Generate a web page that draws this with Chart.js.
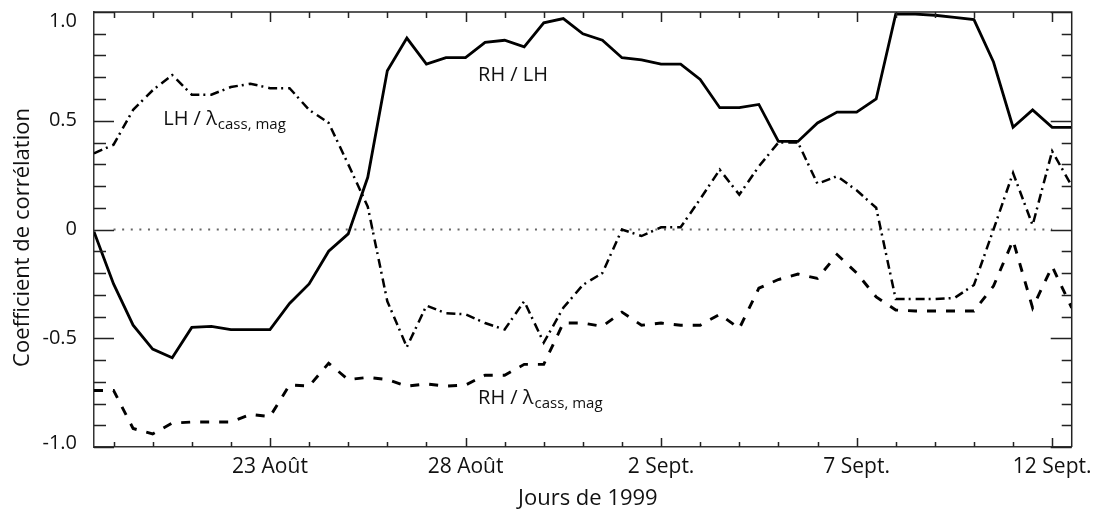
<!DOCTYPE html>
<html><head><meta charset="utf-8">
<script src="https://cdn.jsdelivr.net/npm/chart.js@4.4.1/dist/chart.umd.min.js"></script>
<style>html,body{margin:0;padding:0;background:#fff;} #wrap{width:1099px;height:513px;}</style>
</head><body><div id="wrap"><canvas id="c" width="1099" height="513"></canvas></div>
<script>
// Day of year 1999 (230.5 = 18 Aug, 12:00), half-day samples
const days = [230.5,231,231.5,232,232.5,233,233.5,234,234.5,235,235.5,236,236.5,237,237.5,238,238.5,239,239.5,240,240.5,241,241.5,242,242.5,243,243.5,244,244.5,245,245.5,246,246.5,247,247.5,248,248.5,249,249.5,250,250.5,251,251.5,252,252.5,253,253.5,254,254.5,255,255.5];
// RH / LH (solid)
const rhLh = [-0.01,-0.25,-0.44,-0.55,-0.59,-0.45,-0.445,-0.46,-0.46,-0.46,-0.34,-0.25,-0.10,-0.02,0.24,0.73,0.88,0.76,0.79,0.79,0.86,0.87,0.84,0.95,0.97,0.90,0.87,0.79,0.78,0.76,0.76,0.69,0.56,0.56,0.575,0.405,0.405,0.49,0.54,0.54,0.60,0.99,0.99,0.985,0.975,0.965,0.77,0.47,0.55,0.47,0.47];
// LH / lambda cass,mag (dash-dot)
const lhLambda = [0.35,0.39,0.55,0.64,0.71,0.62,0.62,0.655,0.67,0.65,0.65,0.55,0.49,0.30,0.105,-0.33,-0.54,-0.35,-0.385,-0.39,-0.43,-0.46,-0.33,-0.52,-0.36,-0.255,-0.20,0.00,-0.03,0.01,0.01,0.14,0.275,0.16,0.29,0.40,0.40,0.21,0.245,0.18,0.10,-0.32,-0.32,-0.32,-0.315,-0.255,0.0,0.26,0.02,0.36,0.20];
// RH / lambda cass,mag (dashed)
const rhLambda = [-0.74,-0.74,-0.915,-0.94,-0.89,-0.885,-0.885,-0.885,-0.85,-0.86,-0.715,-0.72,-0.615,-0.69,-0.68,-0.69,-0.72,-0.71,-0.72,-0.715,-0.67,-0.67,-0.62,-0.62,-0.43,-0.43,-0.445,-0.38,-0.44,-0.43,-0.44,-0.44,-0.39,-0.455,-0.27,-0.23,-0.205,-0.225,-0.115,-0.20,-0.31,-0.37,-0.375,-0.375,-0.375,-0.375,-0.26,-0.05,-0.36,-0.17,-0.36];
const zeroLineDays = [231, 255];
const xTickDays = [235, 240, 245, 250, 255];
const xTickLabels = ['23 Août', '28 Août', '2 Sept.', '7 Sept.', '12 Sept.'];
const yTickValues = [-1, -0.5, 0, 0.5, 1];
const yTickLabels = ['-1.0', '-0.5', '0', '0.5', '1.0'];
const xTitle = 'Jours de 1999';
const yTitle = 'Coefficient de corrélation';
const annotations = [
  {main: 'LH / λ', sub: 'cass, mag', x: 232.27, y: 0.482},
  {main: 'RH / LH', sub: '', x: 240.32, y: 0.685},
  {main: 'RH / λ', sub: 'cass, mag', x: 240.32, y: -0.80}
];

const FAM = "'Open Sans', 'DejaVu Sans', sans-serif";
Chart.defaults.font.family = FAM;
Chart.defaults.color = '#111';

const pts = arr => days.map((d, i) => ({x: d, y: arr[i]}));

const framePlugin = {
  id: 'frame',
  afterDraw(chart) {
    const {ctx, chartArea: a, scales: {x, y}} = chart;
    ctx.save();
    ctx.strokeStyle = '#222';
    ctx.lineWidth = 1.5;
    ctx.beginPath();
    ctx.moveTo(a.left, a.top); ctx.lineTo(a.right, a.top); ctx.lineTo(a.right, a.bottom);
    for (let d = 231; d <= 255; d++) {
      const px = Math.round(x.getPixelForValue(d)) + 0.5;
      const major = xTickDays.includes(d);
      ctx.moveTo(px, a.bottom); ctx.lineTo(px, a.bottom - (major ? 9 : 5));
      ctx.moveTo(px, a.top); ctx.lineTo(px, a.top + (major ? 10 : 6));
    }
    for (let k = -10; k <= 10; k++) {
      const py = Math.round(y.getPixelForValue(k / 10)) + 0.5;
      const major = (k % 5 === 0);
      ctx.moveTo(a.left, py); ctx.lineTo(a.left + (major ? 20 : 12), py);
      ctx.moveTo(a.right, py); ctx.lineTo(a.right - (major ? 21 : 10), py);
    }
    ctx.stroke();
    // y tick labels
    ctx.fillStyle = '#111';
    ctx.font = '20px ' + FAM;
    ctx.textAlign = 'right';
    ctx.textBaseline = 'middle';
    yTickValues.forEach((v, i) => {
      let py = y.getPixelForValue(v);
      if (v === 1) py += 9;
      if (v === -1) py -= 4;
      ctx.fillText(yTickLabels[i], a.left - 17, py);
    });
    // axis titles
    ctx.font = '22px ' + FAM;
    ctx.textAlign = 'center';
    ctx.textBaseline = 'alphabetic';
    ctx.fillText(xTitle, (a.left + a.right) / 2 + 5, 505);
    ctx.save();
    ctx.translate(29, (a.top + a.bottom) / 2 + 8);
    ctx.rotate(-Math.PI / 2);
    ctx.fillText(yTitle, 0, 0);
    ctx.restore();
    // annotations
    ctx.textAlign = 'left';
    ctx.textBaseline = 'alphabetic';
    annotations.forEach(an => {
      const px = x.getPixelForValue(an.x), py = y.getPixelForValue(an.y);
      ctx.font = '20px ' + FAM;
      ctx.fillText(an.main, px, py);
      if (an.sub) {
        const w = ctx.measureText(an.main).width;
        ctx.font = '15px ' + FAM;
        ctx.fillText(an.sub, px + w + 1, py + 4);
      }
    });
    ctx.restore();
  }
};

new Chart(document.getElementById('c'), {
  type: 'line',
  data: {
    datasets: [
      {label: 'RH / LH', data: pts(rhLh), borderColor: '#000', borderWidth: 2.8, pointRadius: 0, tension: 0, fill: false},
      {label: 'LH / λcass, mag', data: pts(lhLambda), borderColor: '#000', borderWidth: 2.5, borderDash: [9, 4, 2, 5], pointRadius: 0, tension: 0, fill: false},
      {label: 'RH / λcass, mag', data: pts(rhLambda), borderColor: '#000', borderWidth: 2.9, borderDash: [9, 10], pointRadius: 0, tension: 0, fill: false},
      {label: 'zero', data: zeroLineDays.map(d => ({x: d, y: 0})), borderColor: '#666', borderWidth: 2, borderDash: [2, 6.6], pointRadius: 0, tension: 0, fill: false}
    ]
  },
  options: {
    responsive: false, animation: false, devicePixelRatio: 1,
    layout: {padding: {top: 12, right: 26, left: 0, bottom: 0}},
    plugins: {legend: {display: false}, tooltip: {enabled: false}},
    scales: {
      x: {
        type: 'linear', min: 230.5, max: 255.5,
        afterBuildTicks: s => { s.ticks = xTickDays.map(v => ({value: v})); },
        ticks: {
          callback: v => { const k = xTickDays.indexOf(v); return k >= 0 ? xTickLabels[k] : ''; },
          font: {size: 21}, padding: 7, maxRotation: 0, autoSkip: false, color: '#111'
        },
        grid: {display: false, drawTicks: false},
        border: {display: true, color: '#333', width: 1.5},
        afterFit: s => { s.height = 66; }
      },
      y: {
        min: -1, max: 1,
        ticks: {display: false},
        grid: {display: false, drawTicks: false},
        border: {display: true, color: '#333', width: 1.5},
        afterFit: s => { s.width = 94; }
      }
    }
  },
  plugins: [framePlugin]
});
</script></body></html>
